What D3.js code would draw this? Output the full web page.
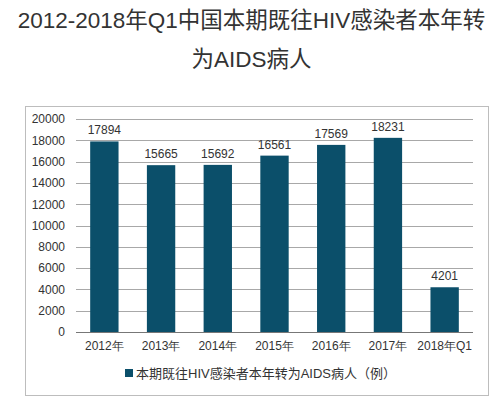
<!DOCTYPE html>
<html>
<head>
<meta charset="utf-8">
<script src="https://cdn.jsdelivr.net/npm/d3@7"></script>
<style>
  body { margin: 0; background: #fff; }
  svg { display: block; font-family: "Liberation Sans", Arial, "Noto Sans CJK SC", sans-serif; }
</style>
</head>
<body>
<div id="chart"></div>
<script>
// ===============================
// Données
// ===============================
const categories = ["2012年", "2013年", "2014年", "2015年", "2016年", "2017年", "2018年Q1"];
const valeurs = [17894, 15665, 15692, 16561, 17569, 18231, 4201];
const ticksY = [0, 2000, 4000, 6000, 8000, 10000, 12000, 14000, 16000, 18000, 20000];
const titre = ["2012-2018年Q1中国本期既往HIV感染者本年转", "为AIDS病人"];
const legende = "本期既往HIV感染者本年转为AIDS病人（例）";

const largeur = 503, hauteur = 396;
const couleurBarre = "#0b4f6a";

const svg = d3.select("#chart").append("svg")
    .attr("width", largeur).attr("height", hauteur);

// Titre
svg.selectAll("text.titre").data(titre).enter().append("text")
    .attr("class", "titre")
    .attr("x", largeur / 2)
    .attr("y", (d, i) => 28 + i * 39)
    .attr("text-anchor", "middle")
    .attr("font-size", 22.5)
    .attr("fill", "#333")
    .text(d => d);

// Cadre du graphique
svg.append("rect")
    .attr("x", 25.5).attr("y", 106.5)
    .attr("width", 463).attr("height", 289)
    .attr("fill", "none").attr("stroke", "#bdbdbd");

// ===============================
// Echelles
// ===============================
const x = d3.scaleBand().domain(categories).range([76, 473]).paddingInner(0.5).paddingOuter(0.25);
const y = d3.scaleLinear().domain([0, 20000]).range([332, 119]);

// Grille
svg.append("g").selectAll("line").data(ticksY).enter().append("line")
    .attr("x1", 76).attr("x2", 473)
    .attr("y1", d => Math.round(y(d)) + 0.5).attr("y2", d => Math.round(y(d)) + 0.5)
    .attr("stroke", d => d === 0 ? "#777" : "#a8a8a8")
    .attr("stroke-width", 1);

// Axe Y
const axeY = svg.append("g")
    .attr("transform", "translate(76,0)")
    .call(d3.axisLeft(y).tickValues(ticksY).tickFormat(d3.format("d")).tickSize(0).tickPadding(11));
axeY.select(".domain").remove();
axeY.selectAll("text").attr("font-size", 12).attr("fill", "#333")
    .attr("font-family", "'Liberation Sans', Arial, sans-serif");

// Axe X
const axeX = svg.append("g")
    .attr("transform", "translate(0,332)")
    .call(d3.axisBottom(x).tickSize(0).tickPadding(9));
axeX.select(".domain").remove();
axeX.selectAll("text").attr("font-size", 12).attr("fill", "#333");

// Barres
svg.append("g").selectAll("rect").data(valeurs).enter().append("rect")
    .attr("x", (d, i) => x(categories[i]))
    .attr("y", d => y(d))
    .attr("width", x.bandwidth())
    .attr("height", d => y(0) - y(d))
    .attr("fill", couleurBarre);

// Etiquettes de valeur
svg.append("g").selectAll("text").data(valeurs).enter().append("text")
    .attr("x", (d, i) => x(categories[i]) + x.bandwidth() / 2)
    .attr("y", d => y(d) - 7)
    .attr("text-anchor", "middle")
    .attr("font-size", 12)
    .attr("fill", "#333")
    .text(d => d);

// Légende
svg.append("rect")
    .attr("x", 125).attr("y", 369).attr("width", 8).attr("height", 8)
    .attr("fill", couleurBarre);
svg.append("text")
    .attr("x", 136).attr("y", 378)
    .attr("font-size", 13)
    .attr("fill", "#333")
    .text(legende);
</script>
</body>
</html>
